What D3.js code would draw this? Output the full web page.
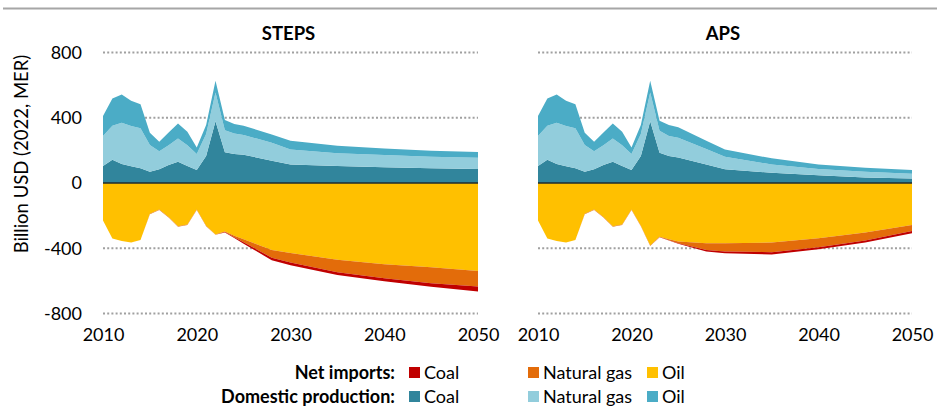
<!DOCTYPE html>
<html>
<head>
<meta charset="utf-8">
<script src="https://cdn.jsdelivr.net/npm/d3@7"></script>
<style>
  body { margin: 0; background: #fff; }
  svg { display: block; font-family: Lato, "Liberation Sans", sans-serif; }
</style>
</head>
<body>
<svg id="chart" width="937" height="406"></svg>
<script>
// Years with data points (annual history, then projection milestones)
const years = [2010, 2011, 2012, 2013, 2014, 2015, 2016, 2017, 2018, 2019, 2020, 2021, 2022,
               2023, 2024, 2025, 2028, 2030, 2035, 2040, 2045, 2050];

// STEPS – domestic production value (billion USD)
const stepsDomCoal = [104, 143, 116, 102, 90, 69, 84, 110, 131, 104, 80, 165, 378, 188, 178, 173, 137, 114, 104, 96, 90, 86];
const stepsDomGas  = [184, 208, 253, 247, 245, 164, 110, 121, 142, 127, 98, 135, 177, 136, 126, 121, 110, 92, 78, 75, 71, 69];
const stepsDomOil  = [122, 167, 174, 155, 147, 75, 59, 79, 92, 83, 40, 55, 72, 62, 57, 57, 51, 53, 47, 41, 37, 35];
// STEPS – net import bill (billion USD, drawn below zero)
const stepsImpOil  = [230, 340, 355, 365, 350, 188, 162, 208, 265, 254, 163, 262, 315, 298, 324, 345, 410, 429, 471, 498, 516, 539];
const stepsImpGas  = [0, 0, 0, 0, 0, 3, 3, 3, 3, 3, 3, 3, 3, 3, 9, 18, 48, 58, 76, 86, 98, 96];
const stepsImpCoal = [0, 0, 0, 0, 0, 0, 0, 0, 0, 0, 0, 0, 0, 2, 4, 10, 15, 17, 17, 19, 22, 30];

// APS – domestic production value (billion USD)
const apsDomCoal = [104, 143, 116, 102, 90, 69, 84, 110, 131, 104, 80, 165, 378, 186, 165, 157, 114, 84, 63, 47, 33, 27];
const apsDomGas  = [184, 208, 253, 247, 245, 164, 110, 121, 142, 127, 98, 135, 177, 134, 123, 121, 94, 77, 51, 39, 36, 30];
const apsDomOil  = [122, 167, 174, 155, 147, 75, 59, 79, 92, 83, 40, 55, 72, 62, 67, 63, 51, 45, 37, 28, 25, 23];
// APS – net import bill (billion USD, drawn below zero)
const apsImpOil  = [230, 340, 355, 365, 350, 188, 162, 208, 265, 254, 163, 262, 383, 329, 345, 359, 369, 369, 365, 339, 304, 257];
const apsImpGas  = [0, 0, 0, 0, 0, 3, 3, 3, 3, 3, 3, 3, 3, 2, 6, 10, 41, 51, 59, 55, 49, 37];
const apsImpCoal = [0, 0, 0, 0, 0, 0, 0, 0, 0, 0, 0, 0, 0, 1, 2, 4, 10, 11, 14, 12, 12, 14];

const yTicks = [-800, -400, 0, 400, 800];
const xTicks = [2010, 2020, 2030, 2040, 2050];
const scenarioTitles = ["STEPS", "APS"];
const legendFuels = ["Coal", "Natural gas", "Oil"];
const legendRows = ["Net imports:", "Domestic production:"];

const colors = {
  domCoal: "#31859c", domGas: "#92cddc", domOil: "#4bacc6",
  impOil: "#ffc000", impGas: "#e36c0a", impCoal: "#c00000"
};

const svg = d3.select("#chart");

// Thin rule across the top
svg.append("line")
  .attr("x1", 3).attr("x2", 937).attr("y1", 8.5).attr("y2", 8.5)
  .attr("stroke", "#a6a6a6").attr("stroke-width", 2);

const y = d3.scaleLinear().domain([-800, 800]).range([313.5, 52.5]);

const panels = [
  { title: scenarioTitles[0], x0: 103, x1: 478,
    dom: [stepsDomCoal, stepsDomGas, stepsDomOil],
    imp: [stepsImpOil, stepsImpGas, stepsImpCoal], yAxis: true },
  { title: scenarioTitles[1], x0: 538, x1: 912,
    dom: [apsDomCoal, apsDomGas, apsDomOil],
    imp: [apsImpOil, apsImpGas, apsImpCoal], yAxis: false }
];

const domKeys = ["domCoal", "domGas", "domOil"];
const impKeys = ["impOil", "impGas", "impCoal"];

panels.forEach(p => {
  const x = d3.scaleLinear().domain([2010, 2050]).range([p.x0, p.x1]);
  const g = svg.append("g");

  const rows = years.map((yr, i) => {
    const r = { year: yr };
    domKeys.forEach((k, j) => r[k] = p.dom[j][i]);
    impKeys.forEach((k, j) => r[k] = p.imp[j][i]);
    return r;
  });

  // gridlines
  g.selectAll("line.grid").data(yTicks.filter(v => v !== 0)).join("line")
    .attr("class", "grid")
    .attr("x1", p.x0).attr("x2", p.x1)
    .attr("y1", d => y(d)).attr("y2", d => y(d))
    .attr("stroke", "#a0a0a0").attr("stroke-width", 2)
    .attr("stroke-dasharray", "2,2.2");

  const posStack = d3.stack().keys(domKeys)(rows);
  const negStack = d3.stack().keys(impKeys)(rows);

  const posArea = d3.area()
    .x(d => x(d.data.year)).y0(d => y(d[0])).y1(d => y(d[1]));
  const negArea = d3.area()
    .x(d => x(d.data.year)).y0(d => y(-d[0])).y1(d => y(-d[1]));

  g.selectAll("path.pos").data(posStack).join("path")
    .attr("class", "pos").attr("d", posArea).attr("fill", d => colors[d.key]);
  g.selectAll("path.neg").data(negStack).join("path")
    .attr("class", "neg").attr("d", negArea).attr("fill", d => colors[d.key]);

  // zero line
  g.append("line")
    .attr("x1", p.x0).attr("x2", p.x1).attr("y1", y(0)).attr("y2", y(0))
    .attr("stroke", "#1e2b2e").attr("stroke-width", 1.6);

  // title
  g.append("text")
    .attr("x", (p.x0 + p.x1) / 2 - 2).attr("y", 40)
    .attr("text-anchor", "middle").attr("font-weight", 700)
    .attr("font-size", 18.5).attr("fill", "#000").text(p.title);

  // x axis labels
  const xAxis = d3.axisBottom(x).tickValues(xTicks).tickFormat(d => String(d))
    .tickSize(0).tickPadding(15);
  const xg = g.append("g").attr("transform", `translate(0,${y(-800)})`).call(xAxis);
  xg.select(".domain").remove();
  xg.selectAll("text").attr("font-size", 18).attr("fill", "#000")
    .attr("font-family", "Lato, 'Liberation Sans', sans-serif");

  if (p.yAxis) {
    const yAxis = d3.axisLeft(y).tickValues(yTicks).tickFormat(d => String(d))
      .tickSize(0).tickPadding(21);
    const yg = g.append("g").attr("transform", `translate(${p.x0},0)`).call(yAxis);
    yg.select(".domain").remove();
    yg.selectAll("text").attr("font-size", 18).attr("fill", "#000")
      .attr("font-family", "Lato, 'Liberation Sans', sans-serif");
  }
});

// y axis title
svg.append("text")
  .attr("transform", "translate(28,154) rotate(-90)")
  .attr("text-anchor", "middle").attr("font-size", 18.5).attr("fill", "#000")
  .text("Billion USD (2022, MER)");

// legend
const legendX = [409, 528, 647];
const legendY = [373, 397];
const legendColors = [
  [colors.impCoal, colors.impGas, colors.impOil],
  [colors.domCoal, colors.domGas, colors.domOil]
];
const lg = svg.append("g");
legendRows.forEach((label, r) => {
  lg.append("text")
    .attr("x", 395).attr("y", legendY[r]).attr("dy", "0.35em")
    .attr("text-anchor", "end").attr("font-weight", 700).attr("font-size", 18)
    .attr("fill", "#000").text(label);
  legendFuels.forEach((f, c) => {
    lg.append("rect")
      .attr("x", legendX[c]).attr("y", legendY[r] - 6)
      .attr("width", 11).attr("height", 11).attr("fill", legendColors[r][c]);
    lg.append("text")
      .attr("x", legendX[c] + 15).attr("y", legendY[r]).attr("dy", "0.35em")
      .attr("font-size", 18).attr("fill", "#000").text(f);
  });
});
</script>
</body>
</html>
